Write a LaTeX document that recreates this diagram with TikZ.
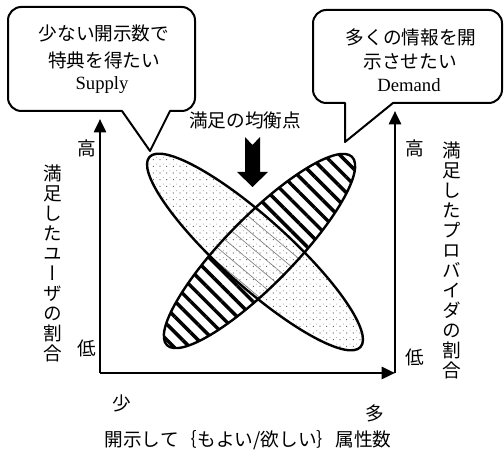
\documentclass[tikz,border=0pt]{standalone}
\usepackage{fontspec}
\setmainfont{Liberation Serif}
\newfontfamily\cjk{Noto Sans CJK JP}
\newfontfamily\cjkv[RawFeature=+vert]{Noto Sans CJK JP}
\usetikzlibrary{arrows.meta,patterns.meta}
\tikzset{
  jp/.style={font=\cjk\fontsize{14}{18}\selectfont, inner sep=0pt},
  en/.style={font=\fontsize{14}{18}\selectfont, inner sep=0pt},
  vcol/.style={font=\cjkv\fontsize{14}{15}\selectfont, align=center, inner sep=0pt},
  axisline/.style={line width=2pt, -{Triangle[length=10pt,width=9pt]}},
  bubble/.style={draw, line width=1.5pt, fill=white, line join=round},
  outline/.style={line width=1.8pt},
}
\begin{document}
\begin{tikzpicture}[x=0.75pt,y=0.75pt]
\useasboundingbox (0,0) rectangle (504,453);

% ellipse centres
\coordinate (S) at (255,201);
\coordinate (D) at (259.5,202);

% Demand ellipse: hatched
\fill[white, rotate around={45.5:(D)}] (D) ellipse (132 and 34);
\begin{scope}
  \clip[rotate around={45.5:(D)}] (D) ellipse (132 and 34);
  \fill[pattern={Lines[angle=-45,distance=8.25pt,line width=2.6pt]}] (0,0) rectangle (504,453);
\end{scope}

% Supply ellipse: sparse stipple on white
\fill[white, rotate around={-42:(S)}] (S) ellipse (142 and 34);
\begin{scope}
  \clip[rotate around={-42:(S)}] (S) ellipse (142 and 34);
  \fill[pattern={Dots[distance=5pt,radius=0.45pt]}, pattern color=black!65] (0,0) rectangle (504,453);
  \fill[pattern={Dots[distance=5pt,radius=0.35pt,xshift=2.5pt,yshift=1.7pt]}, pattern color=black!45] (0,0) rectangle (504,453);
\end{scope}

% overlap: faint lines
\begin{scope}
  \clip[rotate around={-42:(S)}] (S) ellipse (142 and 34);
  \clip[rotate around={45.5:(D)}] (D) ellipse (132 and 34);
  \fill[pattern={Lines[angle=-40,distance=8.25pt,line width=0.5pt]}, pattern color=black!50] (0,0) rectangle (504,453);
\end{scope}

% outlines
\draw[outline, rotate around={45.5:(D)}] (D) ellipse (132 and 34);
\draw[outline, rotate around={-42:(S)}] (S) ellipse (142 and 34);

% speech bubbles
\draw[bubble] (150,302) -- (122,342) [rounded corners=10pt] -- (8,342) -- (8,446) -- (195,446) -- (195,342) [sharp corners] -- (170,342) -- cycle;
\draw[bubble] (345,311) -- (345,350) [rounded corners=10pt] -- (313,350) -- (313,443) -- (502,443) -- (502,350) [sharp corners] -- (393,350) -- cycle;

\node[jp] (s1) at (104,420) {少ない開示数で};
\node[jp] (s2) at (104,393) {特典を得たい};
\node[en] (s3) at (102,368) {Supply};
\node[jp] (d1) at (411,416) {多くの情報を開};
\node[jp] (d2) at (410,391) {示させたい};
\node[en] (d3) at (409,368) {Demand};

% equilibrium label and thick arrow
\node[jp] (eq) at (245,333) {満足の均衡点};
\fill (245,316) -- (252.5,308) -- (260,316) -- (260,281) -- (268,281) -- (252.5,266) -- (237,281) -- (245,281) -- cycle;

% axes
\coordinate (O) at (100,80);
\coordinate (LT) at (100,334);
\coordinate (R) at (395,80);
\coordinate (RT) at (395,342);
\draw[axisline] (O) -- (LT);
\draw[axisline] (O) -- (R);
\draw[axisline] (R) -- (RT);

% axis labels
\node[jp] (lhi) at (87,305) {高};
\node[jp] (llo) at (87,105) {低};
\node[jp] (rhi) at (415,305) {高};
\node[jp] (rlo) at (415,96) {低};
\node[vcol] (lcol) at (53,190) {満\\足\\し\\た\\ユ\\ー\\ザ\\の\\割\\合};
\node[vcol] (rcol) at (452,193) {満\\足\\し\\た\\プ\\ロ\\バ\\イ\\ダ\\の\\割\\合};
\node[jp] (few) at (122,50) {少};
\node[jp] (many) at (375,40) {多};
\node[jp] (title) at (248,13) {開示して｛もよい/欲しい｝属性数};
\end{tikzpicture}
\end{document}
